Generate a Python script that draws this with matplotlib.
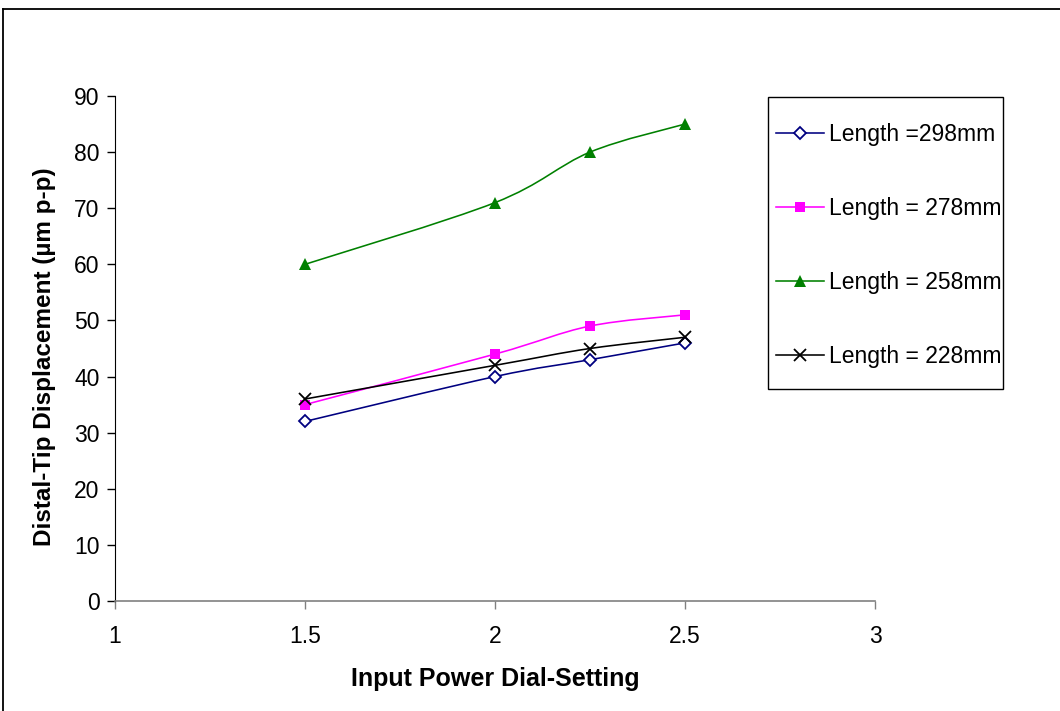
import matplotlib
matplotlib.use('Agg')
import matplotlib.pyplot as plt
from matplotlib.path import Path
from matplotlib.patches import PathPatch, Rectangle
from matplotlib.lines import Line2D
import numpy as np

plt.rcParams['font.family'] = ['Liberation Sans', 'DejaVu Sans']

# data
dial = [1.5, 2.0, 2.25, 2.5]
len_298 = [32, 40, 43, 46]
len_278 = [35, 44, 49, 51]
len_258 = [60, 71, 80, 85]
len_228 = [36, 42, 45, 47]

labels = ['Length =298mm', 'Length = 278mm', 'Length = 258mm', 'Length = 228mm']
colors = ['#000080', '#FF00FF', '#008000', '#000000']


def smooth_path(x, y):
    # Excel-like smoothed line: cubic bezier through the points
    x = np.asarray(x, float)
    y = np.asarray(y, float)
    pts = np.column_stack([x, y])
    verts = [pts[0]]
    codes = [Path.MOVETO]
    n = len(pts)
    for i in range(n - 1):
        p0 = pts[i - 1] if i > 0 else pts[i]
        p1 = pts[i]
        p2 = pts[i + 1]
        p3 = pts[i + 2] if i + 2 < n else pts[i + 1]
        c1 = p1 + (p2 - p0) / 6.0
        c2 = p2 - (p3 - p1) / 6.0
        verts += [c1, c2, p2]
        codes += [Path.CURVE4] * 3
    return Path(verts, codes)


fig = plt.figure(figsize=(10.6, 7.11), dpi=100)
ax = fig.add_axes([115 / 1060, 1 - 601 / 711, 760 / 1060, 505 / 711])

series = [len_298, len_278, len_258, len_228]
markers = [
    dict(marker='D', markersize=6, markerfacecolor='white', markeredgewidth=1.3),
    dict(marker='s', markersize=7, markerfacecolor='#FF00FF', markeredgewidth=0),
    dict(marker='^', markersize=8.5, markerfacecolor='#008000', markeredgewidth=0),
    dict(marker='x', markersize=8, markeredgewidth=1.3),
]
handles = []
for vals, col, mk, lab in zip(series, colors, markers, labels):
    ax.add_patch(PathPatch(smooth_path(dial, vals), facecolor='none',
                           edgecolor=col, lw=1.15))
    ax.plot(dial, vals, linestyle='none', color=col, markeredgecolor=col, **mk)
    handles.append(Line2D([], [], color=col, lw=1.15, markeredgecolor=col, **mk))

ax.set_xlim(1, 3)
ax.set_ylim(0, 90)
ax.set_xticks([1, 1.5, 2, 2.5, 3])
ax.set_xticklabels(['1', '1.5', '2', '2.5', '3'])
ax.set_yticks(range(0, 91, 10))
ax.tick_params(axis='both', labelsize=16.5, length=6, width=1, colors='#000000', pad=5)
ax.tick_params(axis='x', color='#808080', pad=11)
for s in ['top', 'right']:
    ax.spines[s].set_visible(False)
ax.spines['left'].set_color('#000000')
ax.spines['bottom'].set_color('#808080')
ax.spines['bottom'].set_linewidth(1.2)

ax.set_xlabel('Input Power Dial-Setting', fontsize=18, fontweight='bold', labelpad=14)
ax.set_ylabel('Distal-Tip Displacement (µm p-p)', fontsize=17.5, fontweight='bold')
ax.yaxis.set_label_coords(-0.078, 0.483)

leg = fig.legend(handles, labels, loc='upper left',
                 bbox_to_anchor=(776 / 1060, 1 - 123 / 711), fontsize=16.5,
                 frameon=False, handlelength=2.1, handletextpad=0.2,
                 labelspacing=2.22, borderpad=0, borderaxespad=0)
# legend box
fig.add_artist(Rectangle((768 / 1060, 1 - 389 / 711), 235 / 1060, 292 / 711,
                         facecolor='none', edgecolor='black', lw=1.0,
                         transform=fig.transFigure))

# outer chart frame (partly cropped in the picture)
fig.add_artist(Line2D([3 / 1060, 3 / 1060], [0, 1 - 9 / 711], color='black', lw=1.3,
                      transform=fig.transFigure))
fig.add_artist(Line2D([3 / 1060, 1], [1 - 9 / 711, 1 - 9 / 711], color='black', lw=1.3,
                      transform=fig.transFigure))

fig.savefig('out.png', dpi=100, facecolor='white')
